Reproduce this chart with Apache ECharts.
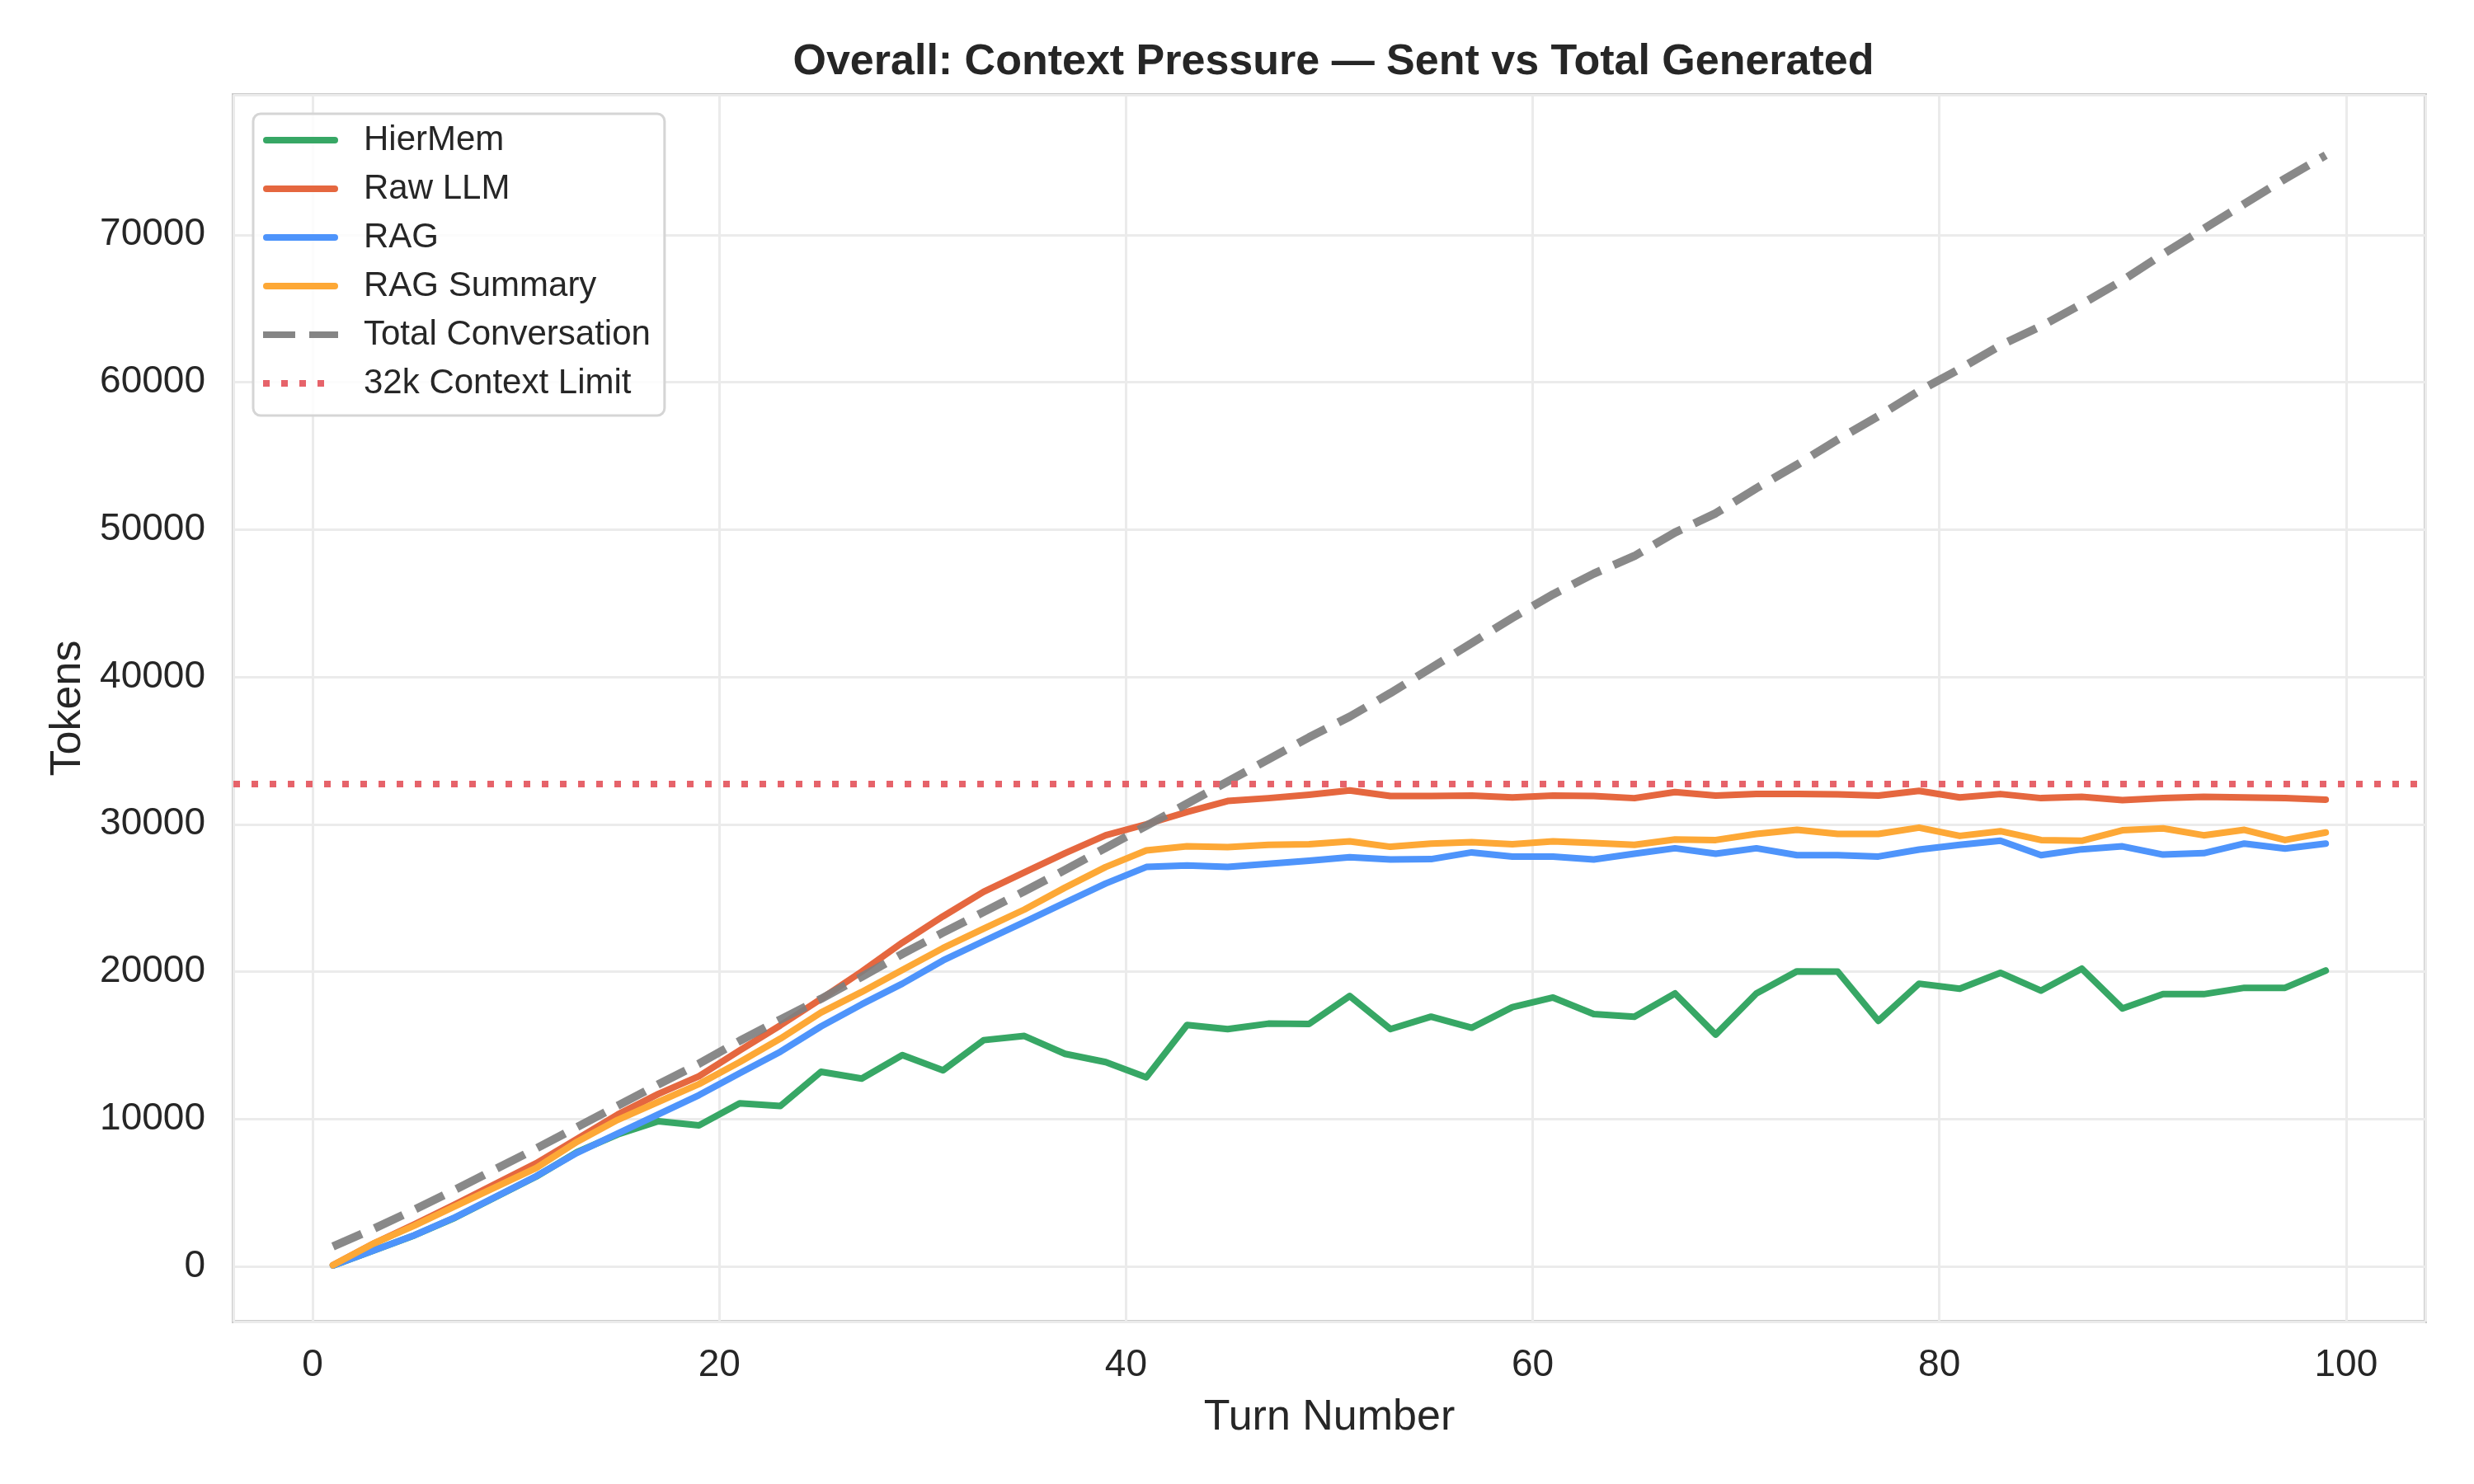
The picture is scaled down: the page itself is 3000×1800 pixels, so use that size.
<!DOCTYPE html>
<html>
<head>
<meta charset="utf-8">
<script src="https://cdn.jsdelivr.net/npm/echarts@6.0.0/dist/echarts.min.js"></script>
<style>
  html, body { margin: 0; padding: 0; background: #fff; }
  #chart { width: 3000px; height: 1800px; }
</style>
</head>
<body>
<div id="chart"></div>
<script>
  const turns = [1, 3, 5, 7, 9, 11, 13, 15, 17, 19, 21, 23, 25, 27, 29, 31, 33, 35, 37, 39,
    41, 43, 45, 47, 49, 51, 53, 55, 57, 59, 61, 63, 65, 67, 69, 71, 73, 75, 77, 79,
    81, 83, 85, 87, 89, 91, 93, 95, 97, 99];

  const hierMem = [60, 1080, 2100, 3300, 4700, 6100, 7750, 8950, 9850, 9570, 11060, 10880, 13200, 12740, 14330, 13300, 15350, 15630, 14420, 13860,
    12830, 16380, 16100, 16470, 16450, 18340, 16100, 16940, 16190, 17590, 18240, 17120, 16940, 18520, 15730, 18520, 20020, 20000, 16660, 19180,
    18840, 19920, 18710, 20200, 17500, 18470, 18470, 18900, 18900, 20070];

  const rawLlm = [80, 1550, 2850, 4200, 5600, 7000, 8650, 10300, 11700, 12900, 14650, 16350, 18150, 20000, 21970, 23750, 25420, 26730, 28040, 29250,
    30000, 30830, 31580, 31770, 32000, 32290, 31920, 31920, 31950, 31820, 31950, 31920, 31770, 32180, 31950, 32050, 32050, 32030, 31950, 32270,
    31820, 32050, 31770, 31860, 31640, 31770, 31860, 31820, 31770, 31670];

  const rag = [60, 1080, 2110, 3320, 4720, 6120, 7700, 9010, 10320, 11620, 13110, 14560, 16280, 17780, 19180, 20760, 22070, 23370, 24680, 25980,
    27100, 27200, 27100, 27310, 27520, 27760, 27610, 27630, 28090, 27810, 27810, 27610, 28000, 28370, 28000, 28370, 27900, 27900, 27810, 28280,
    28600, 28880, 27900, 28300, 28500, 27940, 28040, 28690, 28350, 28690];

  const ragSummary = [80, 1550, 2760, 4070, 5370, 6680, 8450, 9940, 11160, 12370, 13860, 15450, 17220, 18620, 20110, 21600, 22910, 24210, 25700, 27100,
    28220, 28500, 28450, 28600, 28650, 28840, 28470, 28690, 28780, 28650, 28840, 28730, 28600, 28970, 28930, 29340, 29620, 29340, 29340, 29770,
    29210, 29530, 28930, 28880, 29590, 29720, 29250, 29620, 28930, 29440];

  const totalConversation = [1350, 2550, 3850, 5200, 6600, 8000, 9450, 10900, 12350, 13750, 15300, 16750, 18150, 19650, 21200, 22650, 24050, 25450, 26900, 28400,
    29900, 31400, 32900, 34400, 35900, 37300, 38900, 40600, 42300, 44000, 45600, 47000, 48200, 49800, 51100, 52800, 54400, 56100, 57700, 59400,
    60900, 62500, 63800, 65300, 66900, 68700, 70400, 72100, 73800, 75400];

  const contextLimit = 32768;

  const font = "Liberation Sans, Arial, sans-serif";
  const ink = "#262626";

  // legend swatches drawn as paths so they keep the thick line / dash / dot look
  const iconSolid = "path://M4,0H87A4,4 0 0 1 87,8H4A4,4 0 0 1 4,0Z";
  const iconDashed = "path://M0,0H39V8H0Z M56,0H91V8H56Z";
  const iconDotted = "path://M0,0H8V8H0Z M22,0H30V8H22Z M44,0H52V8H44Z M66,0H74V8H66Z M90.9,3.9H91V4H90.9Z";

  const chart = echarts.init(document.getElementById("chart"), null, { renderer: "canvas" });

  function pairs(values) {
    return turns.map((t, i) => [t, values[i]]);
  }

  function solid(name, values, color) {
    return {
      name, type: "line", data: pairs(values), showSymbol: false, symbol: "none",
      lineStyle: { width: 8, color, cap: "round", join: "round" },
      itemStyle: { color }
    };
  }

  chart.setOption({
    animation: false,
    backgroundColor: "#ffffff",
    title: {
      text: "Overall: Context Pressure — Sent vs Total Generated",
      left: 1612, top: 45, textAlign: "center",
      textStyle: { fontFamily: font, fontSize: 52, fontWeight: "bold", color: ink }
    },
    grid: { left: 283, top: 115, width: 2658, height: 1488, show: true, borderColor: "#cccccc", borderWidth: 4, backgroundColor: "transparent" },
    legend: {
      orient: "vertical", left: 307, top: 138,
      padding: [11, 17, 18, 12],
      itemWidth: 91, itemHeight: 8, itemGap: 17,
      backgroundColor: "rgba(255,255,255,0.85)",
      borderColor: "#d5d5d5", borderWidth: 3, borderRadius: 9,
      textStyle: { fontFamily: font, fontSize: 42, color: ink, lineHeight: 42, padding: [0, 0, 0, 26] },
      data: [
        { name: "HierMem", icon: iconSolid },
        { name: "Raw LLM", icon: iconSolid },
        { name: "RAG", icon: iconSolid },
        { name: "RAG Summary", icon: iconSolid },
        { name: "Total Conversation", icon: iconDashed },
        { name: "32k Context Limit", icon: iconDotted }
      ]
    },
    xAxis: {
      type: "value", min: -3.9, max: 103.9, splitNumber: 5,
      name: "Turn Number", nameLocation: "middle", nameGap: 91,
      nameTextStyle: { fontFamily: font, fontSize: 52, color: ink },
      axisLine: { show: false }, axisTick: { show: false },
      axisLabel: { fontFamily: font, fontSize: 46, color: ink, margin: 30, showMinLabel: false, showMaxLabel: false },
      splitLine: { show: true, lineStyle: { color: "#ebebeb", width: 3 } }
    },
    yAxis: {
      type: "value", min: -3750, max: 79500, splitNumber: 8,
      name: "Tokens", nameLocation: "middle", nameGap: 174,
      nameTextStyle: { fontFamily: font, fontSize: 52, color: ink },
      axisLine: { show: false }, axisTick: { show: false },
      axisLabel: {
        fontFamily: font, fontSize: 46, color: ink, margin: 34, showMinLabel: false, showMaxLabel: false,
        formatter: (v) => String(v)
      },
      splitLine: { show: true, lineStyle: { color: "#ebebeb", width: 3 } }
    },
    series: [
      solid("HierMem", hierMem, "#37a765"),
      solid("Raw LLM", rawLlm, "#e5673f"),
      solid("RAG", rag, "#4e94fb"),
      solid("RAG Summary", ragSummary, "#fda836"),
      {
        name: "Total Conversation", type: "line", data: pairs(totalConversation), showSymbol: false, symbol: "none",
        lineStyle: { width: 10, color: "#7f7f7f", opacity: 0.92, type: [38, 17], cap: "butt", join: "round" },
        itemStyle: { color: "#858585" }
      },
      {
        name: "32k Context Limit", type: "line", data: [], symbol: "none",
        lineStyle: { width: 8, color: "#e6636a", type: [8, 14], cap: "butt" },
        itemStyle: { color: "#e6636a" },
        markLine: {
          silent: true, symbol: "none", label: { show: false },
          lineStyle: { width: 8, color: "#e6636a", type: [8, 14], cap: "butt" },
          data: [{ yAxis: contextLimit }]
        }
      }
    ]
  });
</script>
</body>
</html>
